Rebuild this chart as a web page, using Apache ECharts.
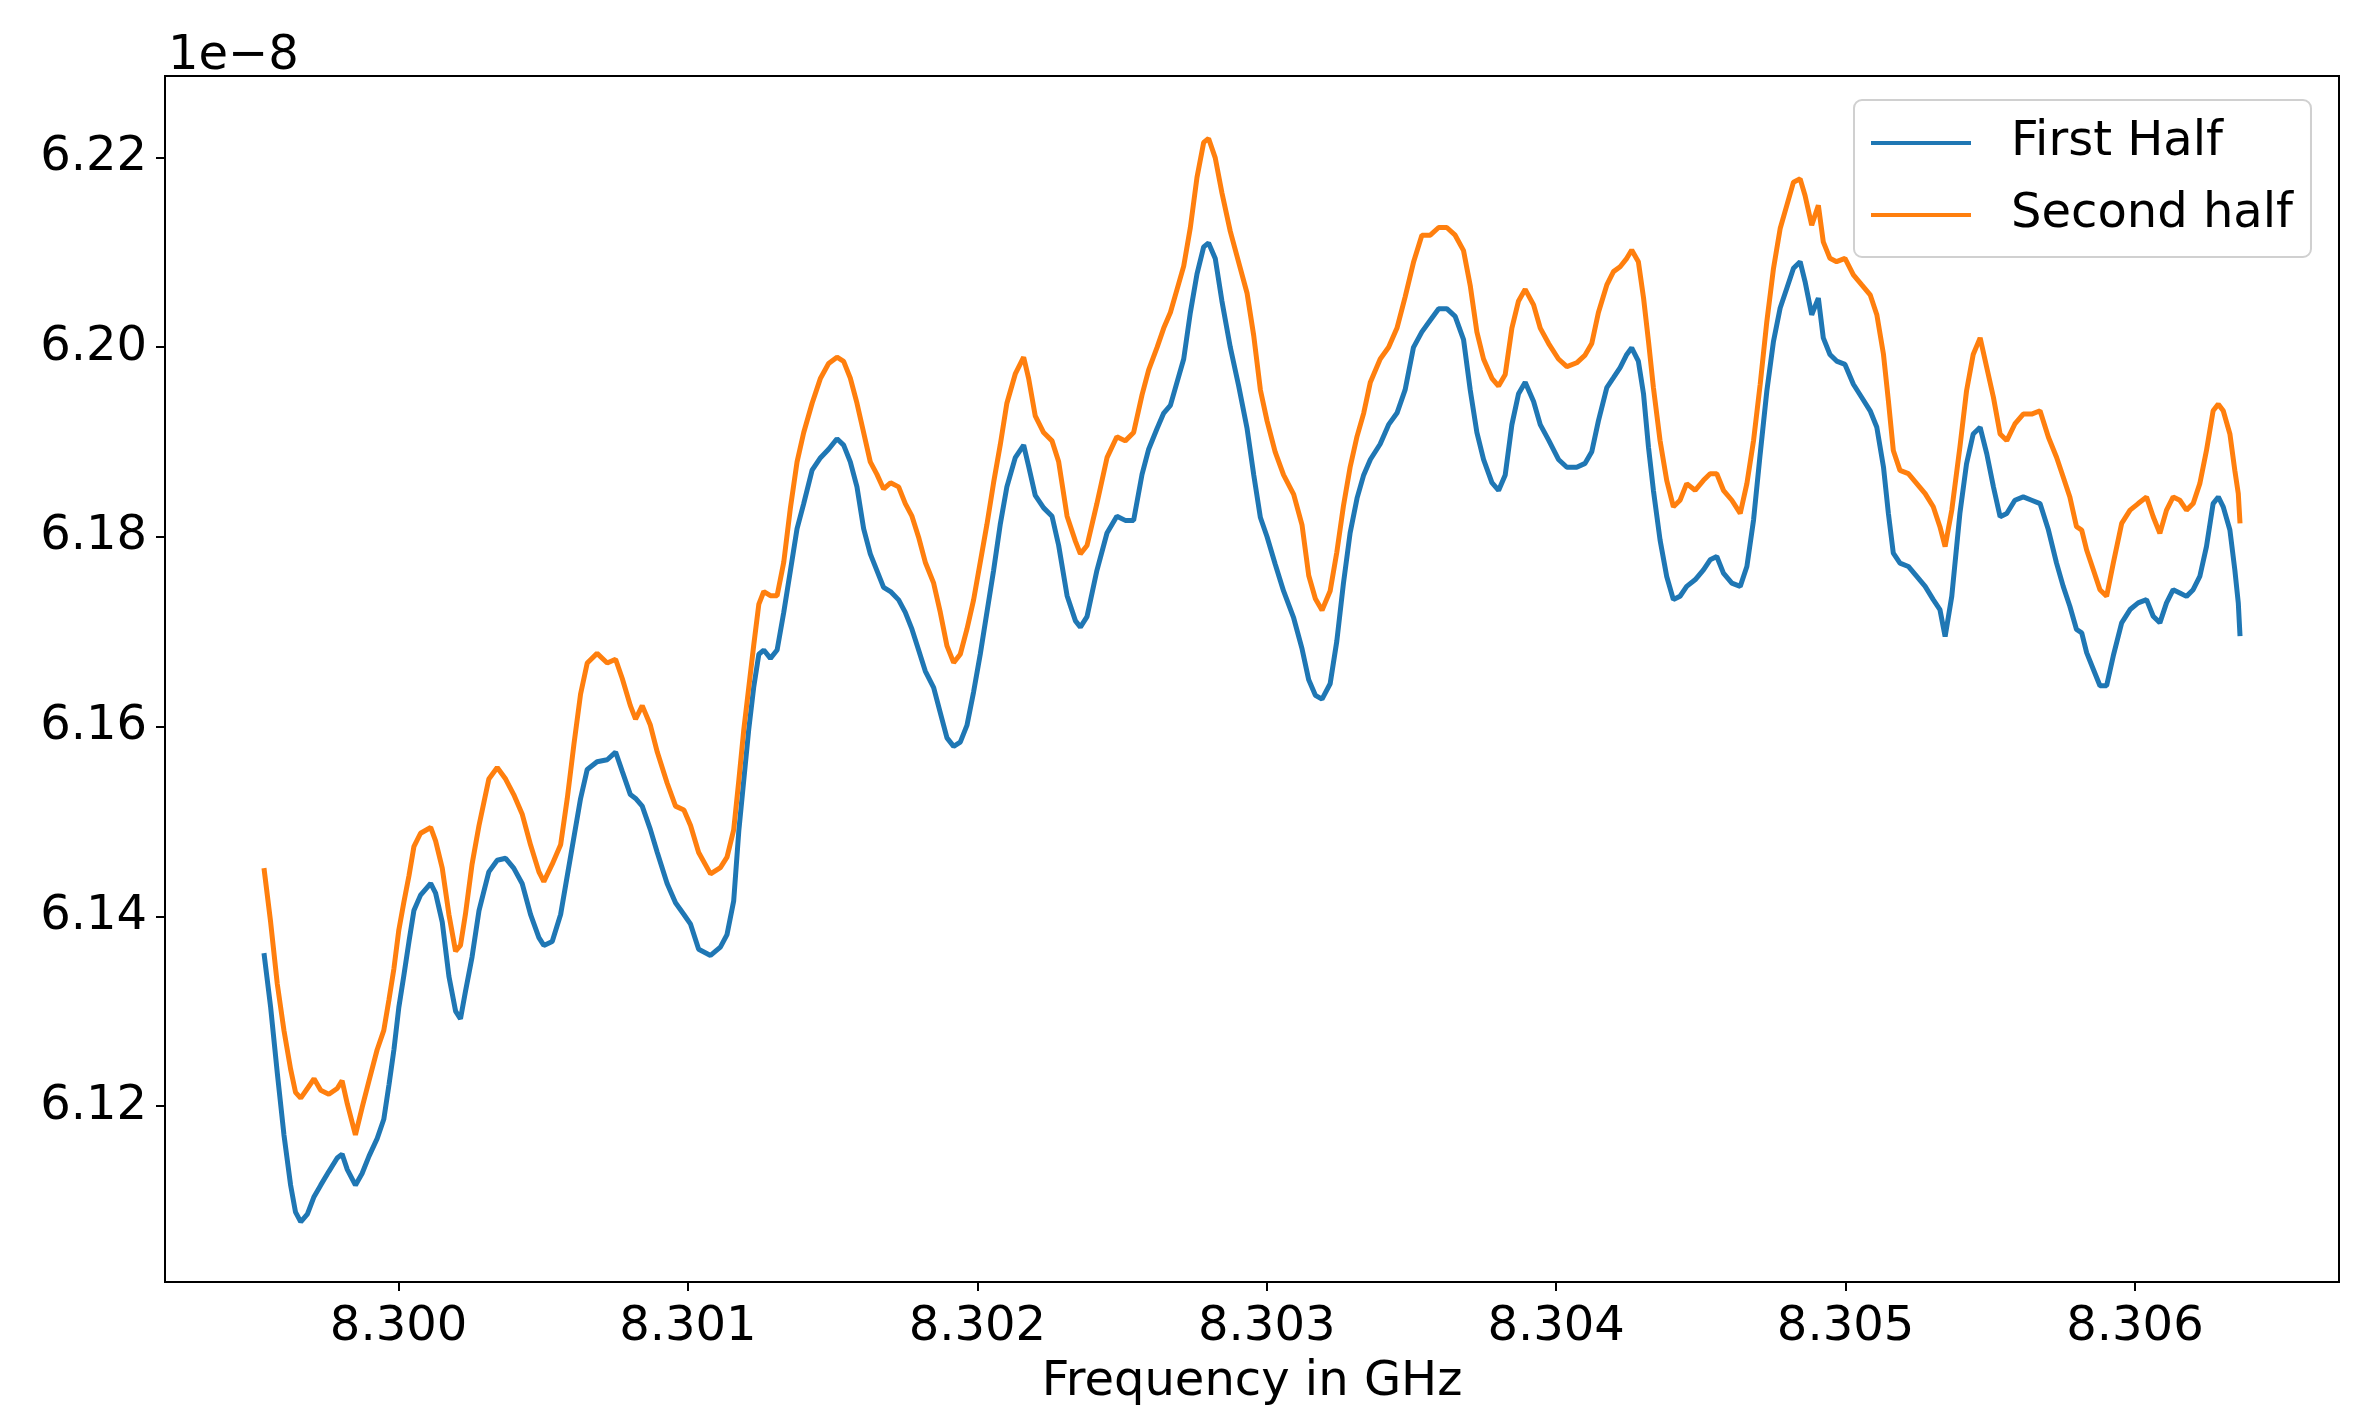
<!DOCTYPE html>
<html>
<head>
<meta charset="utf-8">
<script src="https://cdn.jsdelivr.net/npm/echarts@6/dist/echarts.min.js"></script>
<style>
  html, body { margin: 0; padding: 0; background: #fff; }
  #chart-container { width: 2372px; height: 1412px; }
</style>
</head>
<body>
<div id="chart-container"></div>
<script>
// frequency in GHz, shared by both halves
var freqGHz = [
  8.299535, 8.299558, 8.299581, 8.299604, 8.299627, 8.299644, 8.299662, 8.299685, 8.299708, 8.299731,
  8.299759, 8.299788, 8.299805, 8.299823, 8.299851, 8.299874, 8.299898, 8.299926, 8.299949, 8.299967,
  8.299984, 8.300001, 8.300018, 8.300036, 8.300053, 8.300076, 8.300111, 8.300128, 8.300151, 8.300174,
  8.300197, 8.300214, 8.300231, 8.300254, 8.300278, 8.300295, 8.300312, 8.300341, 8.300370, 8.300398,
  8.300427, 8.300456, 8.300485, 8.300502, 8.300531, 8.300560, 8.300583, 8.300606, 8.300629, 8.300652,
  8.300686, 8.300721, 8.300750, 8.300773, 8.300801, 8.300819, 8.300842, 8.300870, 8.300894, 8.300928,
  8.300957, 8.300986, 8.301009, 8.301037,
  8.301078, 8.301112, 8.301135, 8.301158, 8.301176, 8.301193, 8.301210, 8.301227, 8.301245, 8.301262,
  8.301285, 8.301308, 8.301331, 8.301354, 8.301377, 8.301400, 8.301429, 8.301458, 8.301486, 8.301515,
  8.301538, 8.301561, 8.301584, 8.301607, 8.301630, 8.301653, 8.301676, 8.301700, 8.301728, 8.301751,
  8.301774, 8.301797, 8.301820, 8.301849, 8.301872, 8.301895, 8.301918, 8.301941, 8.301964, 8.301987,
  8.302010, 8.302033, 8.302056, 8.302079, 8.302102, 8.302131, 8.302160, 8.302177, 8.302200, 8.302229,
  8.302258, 8.302281, 8.302310, 8.302339, 8.302356, 8.302379, 8.302413, 8.302448, 8.302482, 8.302511,
  8.302540, 8.302569, 8.302592,
  8.302621, 8.302644, 8.302667, 8.302690, 8.302713, 8.302736, 8.302759, 8.302782, 8.302799, 8.302822,
  8.302845, 8.302874, 8.302903, 8.302932, 8.302955, 8.302978, 8.303001, 8.303029, 8.303058, 8.303093,
  8.303122, 8.303145, 8.303168, 8.303191, 8.303219, 8.303242, 8.303265, 8.303288, 8.303312, 8.303335,
  8.303358, 8.303392, 8.303421, 8.303450, 8.303478, 8.303507, 8.303536, 8.303565, 8.303594, 8.303622,
  8.303651, 8.303680, 8.303703, 8.303726, 8.303749, 8.303778, 8.303801, 8.303824, 8.303847, 8.303870,
  8.303893, 8.303922, 8.303945, 8.303974, 8.304008, 8.304037, 8.304071, 8.304100, 8.304123, 8.304146,
  8.304175, 8.304198, 8.304221, 8.304244, 8.304261, 8.304284, 8.304302, 8.304319, 8.304336, 8.304359,
  8.304382, 8.304405, 8.304428, 8.304451, 8.304480, 8.304509, 8.304532, 8.304555, 8.304578, 8.304607,
  8.304636, 8.304659, 8.304682, 8.304705, 8.304728, 8.304751, 8.304774, 8.304797, 8.304820, 8.304843,
  8.304860, 8.304883, 8.304906, 8.304923, 8.304946, 8.304969, 8.304998, 8.305027, 8.305056, 8.305085,
  8.305108, 8.305131, 8.305148, 8.305165, 8.305188, 8.305217, 8.305246, 8.305275, 8.305303, 8.305326,
  8.305344, 8.305367, 8.305395, 8.305418, 8.305441, 8.305465, 8.305488, 8.305511, 8.305534, 8.305557,
  8.305585, 8.305614, 8.305643, 8.305672, 8.305701,
  8.305729, 8.305752, 8.305775, 8.305798, 8.305816, 8.305833, 8.305856, 8.305879, 8.305902, 8.305925,
  8.305954, 8.305983, 8.306011, 8.306040, 8.306063, 8.306086, 8.306109, 8.306132, 8.306155, 8.306178,
  8.306201, 8.306224, 8.306247, 8.306270, 8.306288, 8.306305, 8.306328, 8.306345, 8.306357, 8.306363
];

// values in units of 1e-8
var firstHalf = [
  6.13614, 6.13043, 6.12350, 6.11698, 6.11168, 6.10883, 6.10781, 6.10863, 6.11046, 6.11168,
  6.11311, 6.11454, 6.11495, 6.11332, 6.11168, 6.11291, 6.11474, 6.11658, 6.11862, 6.12228,
  6.12595, 6.13043, 6.13370, 6.13736, 6.14062, 6.14225, 6.14348, 6.14246, 6.13940, 6.13370,
  6.13003, 6.12921, 6.13207, 6.13573, 6.14062, 6.14266, 6.14470, 6.14592, 6.14613, 6.14510,
  6.14348, 6.14021, 6.13777, 6.13695, 6.13736, 6.14021, 6.14429, 6.14837, 6.15244, 6.15550,
  6.15631, 6.15652, 6.15733, 6.15529, 6.15285, 6.15244, 6.15163, 6.14918, 6.14674, 6.14348,
  6.14144, 6.14021, 6.13919, 6.13655,
  6.13589, 6.13677, 6.13809, 6.14162, 6.14912, 6.15441, 6.15970, 6.16411, 6.16764, 6.16808,
  6.16720, 6.16808, 6.17205, 6.17646, 6.18087, 6.18351, 6.18704, 6.18836, 6.18925, 6.19035,
  6.18968, 6.18792, 6.18528, 6.18087, 6.17822, 6.17646, 6.17469, 6.17425, 6.17337, 6.17205,
  6.17028, 6.16808, 6.16587, 6.16411, 6.16146, 6.15882, 6.15793, 6.15837, 6.16014, 6.16367,
  6.16764, 6.17205, 6.17646, 6.18131, 6.18528, 6.18836, 6.18968, 6.18748, 6.18439, 6.18307,
  6.18219, 6.17910, 6.17381, 6.17116, 6.17050, 6.17161, 6.17646, 6.18042, 6.18219, 6.18175,
  6.18175, 6.18660, 6.18925,
  6.19143, 6.19306, 6.19387, 6.19632, 6.19876, 6.20366, 6.20773, 6.21058, 6.21099, 6.20936,
  6.20488, 6.19999, 6.19591, 6.19143, 6.18654, 6.18205, 6.18002, 6.17716, 6.17431, 6.17146,
  6.16820, 6.16494, 6.16331, 6.16290, 6.16453, 6.16901, 6.17512, 6.18042, 6.18409, 6.18654,
  6.18817, 6.18980, 6.19184, 6.19306, 6.19550, 6.19999, 6.20162, 6.20284, 6.20406, 6.20406,
  6.20325, 6.20080, 6.19550, 6.19102, 6.18817, 6.18572, 6.18491, 6.18654, 6.19184, 6.19510,
  6.19632, 6.19428, 6.19184, 6.19021, 6.18817, 6.18735, 6.18735, 6.18776, 6.18898, 6.19224,
  6.19575, 6.19679, 6.19784, 6.19924, 6.19994, 6.19854, 6.19505, 6.18946, 6.18492, 6.17968,
  6.17584, 6.17340, 6.17375, 6.17479, 6.17549, 6.17654, 6.17759, 6.17794, 6.17619, 6.17514,
  6.17479, 6.17689, 6.18178, 6.18876, 6.19540, 6.20064, 6.20413, 6.20622, 6.20832, 6.20902,
  6.20692, 6.20343, 6.20518, 6.20099, 6.19924, 6.19854, 6.19819, 6.19610, 6.19470, 6.19330,
  6.19156, 6.18737, 6.18248, 6.17829, 6.17724, 6.17689, 6.17584, 6.17479, 6.17340, 6.17235,
  6.16950, 6.17375, 6.18248, 6.18772, 6.19086, 6.19156, 6.18876, 6.18527, 6.18213, 6.18248,
  6.18387, 6.18422, 6.18387, 6.18352, 6.18073,
  6.17724, 6.17479, 6.17270, 6.17025, 6.16990, 6.16781, 6.16606, 6.16432, 6.16432, 6.16746,
  6.17095, 6.17235, 6.17305, 6.17340, 6.17165, 6.17095, 6.17305, 6.17444, 6.17409, 6.17374,
  6.17444, 6.17584, 6.17898, 6.18352, 6.18422, 6.18317, 6.18073, 6.17654, 6.17305, 6.16956
];

var secondHalf = [
  6.14510, 6.13940, 6.13288, 6.12799, 6.12391, 6.12146, 6.12085, 6.12187, 6.12289, 6.12167,
  6.12126, 6.12187, 6.12269, 6.12024, 6.11698, 6.11984, 6.12269, 6.12595, 6.12799, 6.13125,
  6.13451, 6.13858, 6.14144, 6.14429, 6.14735, 6.14877, 6.14938, 6.14796, 6.14510, 6.14021,
  6.13634, 6.13695, 6.14021, 6.14551, 6.14959, 6.15203, 6.15448, 6.15570, 6.15448, 6.15285,
  6.15081, 6.14755, 6.14470, 6.14368, 6.14551, 6.14755, 6.15244, 6.15815, 6.16345, 6.16671,
  6.16773, 6.16671, 6.16711, 6.16508, 6.16222, 6.16080, 6.16222, 6.16018, 6.15733, 6.15407,
  6.15163, 6.15122, 6.14959, 6.14674,
  6.14449, 6.14515, 6.14625, 6.14912, 6.15441, 6.15970, 6.16411, 6.16852, 6.17293, 6.17425,
  6.17381, 6.17381, 6.17734, 6.18307, 6.18792, 6.19101, 6.19410, 6.19674, 6.19828, 6.19895,
  6.19851, 6.19674, 6.19410, 6.19101, 6.18792, 6.18660, 6.18506, 6.18571, 6.18528, 6.18351,
  6.18219, 6.17998, 6.17734, 6.17513, 6.17205, 6.16852, 6.16675, 6.16764, 6.17028, 6.17337,
  6.17734, 6.18131, 6.18571, 6.18969, 6.19410, 6.19718, 6.19895, 6.19674, 6.19277, 6.19101,
  6.19013, 6.18792, 6.18219, 6.17954, 6.17822, 6.17910, 6.18351, 6.18836, 6.19057, 6.19013,
  6.19101, 6.19498, 6.19762,
  6.19999, 6.20202, 6.20366, 6.20610, 6.20855, 6.21262, 6.21792, 6.22159, 6.22200, 6.21996,
  6.21629, 6.21221, 6.20895, 6.20569, 6.20121, 6.19550, 6.19224, 6.18898, 6.18654, 6.18450,
  6.18124, 6.17594, 6.17349, 6.17227, 6.17431, 6.17838, 6.18328, 6.18735, 6.19061, 6.19306,
  6.19632, 6.19876, 6.19999, 6.20202, 6.20529, 6.20895, 6.21181, 6.21181, 6.21262, 6.21262,
  6.21181, 6.21018, 6.20651, 6.20162, 6.19876, 6.19673, 6.19591, 6.19713, 6.20202, 6.20488,
  6.20610, 6.20447, 6.20202, 6.20039, 6.19876, 6.19795, 6.19836, 6.19917, 6.20039, 6.20366,
  6.20657, 6.20797, 6.20849, 6.20937, 6.21024, 6.20902, 6.20518, 6.20064, 6.19575, 6.19016,
  6.18597, 6.18318, 6.18387, 6.18562, 6.18492, 6.18597, 6.18667, 6.18667, 6.18492, 6.18387,
  6.18248, 6.18562, 6.19016, 6.19610, 6.20273, 6.20832, 6.21251, 6.21495, 6.21740, 6.21775,
  6.21600, 6.21286, 6.21495, 6.21111, 6.20937, 6.20902, 6.20937, 6.20762, 6.20657, 6.20553,
  6.20343, 6.19924, 6.19435, 6.18911, 6.18702, 6.18667, 6.18562, 6.18457, 6.18318, 6.18108,
  6.17899, 6.18283, 6.18946, 6.19540, 6.19924, 6.20099, 6.19784, 6.19470, 6.19086, 6.19016,
  6.19191, 6.19295, 6.19295, 6.19330, 6.19051,
  6.18841, 6.18632, 6.18422, 6.18108, 6.18073, 6.17863, 6.17654, 6.17444, 6.17375, 6.17724,
  6.18143, 6.18283, 6.18352, 6.18422, 6.18213, 6.18038, 6.18283, 6.18422, 6.18387, 6.18283,
  6.18352, 6.18562, 6.18911, 6.19330, 6.19400, 6.19330, 6.19086, 6.18702, 6.18457, 6.18143
];

var xTicks = [8.300, 8.301, 8.302, 8.303, 8.304, 8.305, 8.306];
var yTicks = [6.12, 6.14, 6.16, 6.18, 6.20, 6.22];

var dom = document.getElementById('chart-container');
var myChart = echarts.init(dom, null, { renderer: 'canvas' });

function pairs(vals) {
  return freqGHz.map(function (f, i) { return [f, vals[i]]; });
}

var font = 'DejaVu Sans';

var option = {
  animation: false,
  backgroundColor: '#ffffff',
  textStyle: { fontFamily: font },
  grid: {
    left: 165, right: 33, top: 76, bottom: 122,
    show: true, borderColor: '#000', borderWidth: 2
  },
  xAxis: {
    type: 'value',
    min: 8.299193,
    max: 8.306705,
    name: 'Frequency in GHz',
    nameLocation: 'middle',
    nameGap: 77,
    nameTextStyle: { fontSize: 48, color: '#000', fontFamily: font },
    axisLine: { show: false },
    axisTick: { show: true, length: 9, lineStyle: { color: '#000', width: 2 }, customValues: xTicks },
    axisLabel: {
      customValues: xTicks, fontSize: 48, color: '#000', margin: 22, fontFamily: font,
      formatter: function (v) { return v.toFixed(3); }
    },
    splitLine: { show: false }
  },
  yAxis: {
    type: 'value',
    min: 6.10147,
    max: 6.22859,
    axisLine: { show: false },
    axisTick: { show: true, length: 9, lineStyle: { color: '#000', width: 2 }, customValues: yTicks },
    axisLabel: {
      customValues: yTicks, fontSize: 48, color: '#000', margin: 18, fontFamily: font,
      padding: [10, 0, 0, 0],
      formatter: function (v) { return v.toFixed(2); }
    },
    splitLine: { show: false }
  },
  legend: {
    orient: 'vertical',
    left: 1854,
    top: 100,
    padding: [15, 18, 14, 17],
    itemGap: 16,
    itemWidth: 100,
    itemHeight: 4,
    icon: 'rect',
    backgroundColor: 'rgba(255,255,255,0.8)',
    borderColor: '#d0d0d0',
    borderWidth: 2,
    borderRadius: 8,
    textStyle: { fontSize: 48, color: '#000', lineHeight: 56, padding: [0, 0, 0, 35], fontFamily: font },
    data: ['First Half', 'Second half']
  },
  graphic: [{
    type: 'text',
    left: 168,
    top: 33,
    style: { text: '1e\u22128', fontSize: 48, fill: '#000', fontFamily: font }
  }],
  series: [
    {
      name: 'First Half',
      type: 'line',
      data: pairs(firstHalf),
      symbol: 'none',
      showSymbol: false,
      color: '#1f77b4',
      lineStyle: { width: 5, color: '#1f77b4' }
    },
    {
      name: 'Second half',
      type: 'line',
      data: pairs(secondHalf),
      symbol: 'none',
      showSymbol: false,
      color: '#ff7f0e',
      lineStyle: { width: 5, color: '#ff7f0e' }
    }
  ]
};

myChart.setOption(option);
window.addEventListener('resize', myChart.resize);
</script>
</body>
</html>
